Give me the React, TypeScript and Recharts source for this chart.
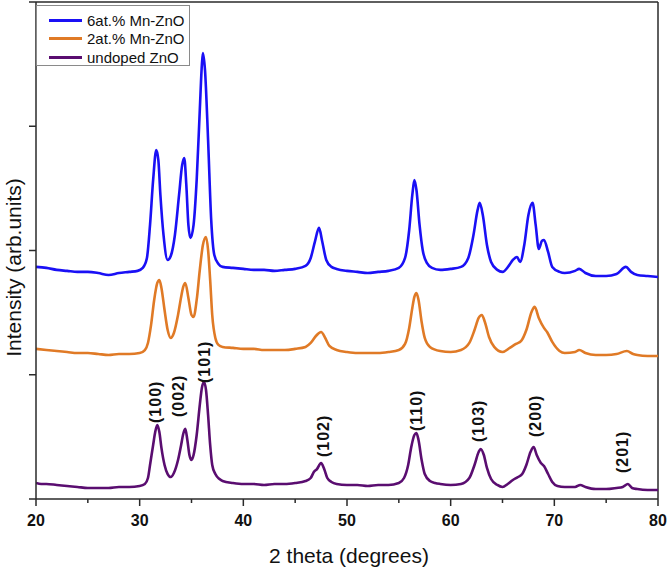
import { LineChart, Line, XAxis, YAxis, ReferenceLine, ReferenceDot, Legend } from 'recharts';

// 2 theta (deg), intensity (arb.)
const doped6: [number, number][] = [
  [20, 1868], [21, 1860], [22, 1844], [23, 1836], [24, 1828], [25, 1828], [26, 1819], [27, 1803],
  [28, 1819], [29, 1828], [29.8, 1836], [30.3, 1860], [30.7, 1940], [31.0, 2206], [31.3, 2568],
  [31.6, 2809], [31.8, 2729], [32.0, 2447], [32.3, 2125], [32.7, 1924], [33.0, 1956], [33.4, 2125],
  [33.8, 2447], [34.1, 2689], [34.3, 2745], [34.5, 2528], [34.7, 2206], [34.9, 2101], [35.2, 2206],
  [35.5, 2568], [35.8, 3131], [36.0, 3494], [36.1, 3590], [36.3, 3454], [36.6, 2890], [36.9, 2246],
  [37.2, 1964], [37.6, 1892], [38, 1868], [39, 1860], [40, 1852], [41, 1844], [42, 1844], [43, 1836],
  [44, 1844], [45, 1852], [46, 1876], [46.5, 1940], [46.9, 2069], [47.3, 2182], [47.6, 2077],
  [48.0, 1924], [48.5, 1868], [49, 1852], [50, 1836], [51, 1828], [52, 1819], [53, 1828], [54, 1836],
  [55, 1860], [55.6, 1940], [56.0, 2165], [56.3, 2447], [56.5, 2568], [56.7, 2487], [57.0, 2206],
  [57.3, 2004], [57.7, 1900], [58.2, 1860], [59, 1844], [60, 1852], [61, 1868], [61.7, 1940],
  [62.2, 2125], [62.6, 2327], [62.8, 2383], [63.1, 2286], [63.5, 2045], [63.9, 1908], [64.5, 1844],
  [65.0, 1828], [65.6, 1876], [66.0, 1924], [66.4, 1948], [66.7, 1908], [67.1, 2045], [67.5, 2286],
  [67.9, 2383], [68.2, 2206], [68.5, 2013], [68.8, 2077], [69.0, 2085], [69.4, 1988], [69.8, 1868],
  [70.5, 1828], [71, 1819], [72, 1836], [72.4, 1852], [73, 1819], [74, 1795], [75, 1795], [76, 1811],
  [76.9, 1868], [77.4, 1828], [78, 1803], [79, 1795], [80, 1787],
];

const doped2: [number, number][] = [
  [20, 1208], [21, 1199], [22, 1191], [23, 1183], [24, 1175], [25, 1175], [26, 1167], [27, 1159],
  [28, 1167], [29, 1167], [30, 1175], [30.5, 1199], [30.8, 1256], [31.1, 1401], [31.4, 1602],
  [31.7, 1739], [31.9, 1763], [32.1, 1699], [32.4, 1521], [32.7, 1360], [33.0, 1296], [33.3, 1336],
  [33.7, 1481], [34.0, 1626], [34.2, 1707], [34.4, 1739], [34.7, 1618], [35.0, 1481], [35.2, 1465],
  [35.5, 1602], [35.8, 1843], [36.1, 2045], [36.4, 2109], [36.6, 2004], [36.8, 1763], [37.0, 1481],
  [37.3, 1296], [37.6, 1240], [38, 1224], [39, 1216], [40, 1208], [41, 1208], [42, 1199], [43, 1199],
  [44, 1199], [45, 1208], [46, 1224], [46.5, 1256], [47.0, 1312], [47.5, 1344], [47.9, 1296],
  [48.3, 1232], [49, 1199], [50, 1183], [51, 1175], [52, 1175], [53, 1175], [54, 1183], [55, 1199],
  [55.6, 1248], [56.0, 1377], [56.3, 1538], [56.5, 1626], [56.7, 1658], [56.9, 1602], [57.2, 1425],
  [57.5, 1296], [58, 1224], [59, 1191], [60, 1183], [61, 1199], [61.8, 1256], [62.3, 1360],
  [62.7, 1457], [63.0, 1481], [63.3, 1425], [63.7, 1304], [64.2, 1224], [65, 1183], [65.7, 1216],
  [66.3, 1248], [66.8, 1272], [67.3, 1360], [67.8, 1505], [68.1, 1546], [68.5, 1457], [69.0, 1377],
  [69.3, 1344], [69.8, 1264], [70.5, 1191], [71, 1175], [72, 1183], [72.4, 1199], [73, 1175],
  [74, 1159], [75, 1159], [76, 1167], [77, 1191], [77.6, 1167], [78, 1159], [79, 1151], [80, 1151],
];

const undoped: [number, number][] = [
  [20, 129], [20.5, 121], [21, 121], [22, 113], [23, 105], [24, 97], [25, 89], [26, 89], [27, 89],
  [28, 97], [29, 97], [30, 105], [30.5, 121], [30.8, 169], [31.0, 274], [31.3, 435], [31.5, 539],
  [31.7, 596], [31.9, 539], [32.1, 411], [32.4, 274], [32.7, 201], [33.0, 177], [33.3, 209],
  [33.7, 314], [34.0, 435], [34.2, 523], [34.4, 564], [34.6, 475], [34.8, 354], [35.0, 314],
  [35.2, 354], [35.5, 515], [35.8, 757], [36.0, 894], [36.2, 942], [36.4, 877], [36.6, 676],
  [36.8, 435], [37.0, 274], [37.3, 201], [37.7, 161], [38, 145], [39, 129], [40, 121], [41, 121],
  [42, 113], [43, 121], [44, 121], [45, 129], [46, 145], [46.5, 169], [46.8, 217], [47.1, 241],
  [47.5, 290], [47.8, 241], [48.1, 169], [48.5, 137], [49, 121], [50, 113], [51, 113], [52, 105],
  [53, 113], [54, 113], [55, 129], [55.5, 169], [55.9, 274], [56.2, 419], [56.5, 515], [56.7, 531],
  [56.9, 475], [57.2, 314], [57.5, 201], [58, 145], [58.5, 129], [59, 121], [60, 113], [61, 121],
  [61.8, 169], [62.3, 274], [62.7, 378], [62.9, 403], [63.2, 354], [63.5, 250], [63.9, 161],
  [64.5, 113], [65, 97], [65.5, 121], [66.0, 153], [66.5, 177], [66.9, 201], [67.3, 274],
  [67.7, 378], [68.0, 419], [68.3, 354], [68.7, 290], [69.0, 266], [69.4, 201], [69.8, 137],
  [70.3, 105], [71, 97], [72, 97], [72.5, 113], [73, 97], [74, 80], [75, 80], [76, 89], [76.6, 97],
  [77.1, 121], [77.5, 89], [78, 80], [79, 72], [80, 72],
];

const hklLabels = ['(100)', '(002)', '(101)', '(102)', '(110)', '(103)', '(200)', '(201)'];
const hklTheta = [31.5, 33.7, 36.3, 47.7, 56.7, 62.7, 68.2, 76.6];
const hklBase = [612, 660, 934, 338, 547, 459, 499, 209];

const xTicks = [20, 25, 30, 35, 40, 45, 50, 55, 60, 65, 70, 75, 80];
const yTicks = [0, 1000, 2000, 3000, 4000];

const seriesNames = ['6at.% Mn-ZnO', '2at.% Mn-ZnO', 'undoped ZnO'];
const seriesColors = ['#1a10f5', '#e07a26', '#5a0d70'];

const toRows = (pts: [number, number][]) => pts.map(([t, v]) => ({ t, v }));

const axisColor = '#2a2a2a';
const font = 'Liberation Sans, Arial, sans-serif';

const XTick = (props: any) => {
  const { x, y, payload } = props;
  const major = payload.value % 10 === 0;
  return (
    <g>
      <line x1={x} x2={x} y1={y} y2={y + (major ? 7 : 4)} stroke={axisColor} strokeWidth={1.5} />
      {major && (
        <text x={x} y={y + 16} dy="0.71em" textAnchor="middle" fontFamily={font} fontWeight="bold" fontSize={16} fill="#111">
          {payload.value}
        </text>
      )}
    </g>
  );
};

// y ticks: marks only, no labels
const YTick = (props: any) => {
  const { x, y } = props;
  return <line x1={x - 7} x2={x} y1={y} y2={y} stroke={axisColor} strokeWidth={1.5} />;
};

const HklMark = (text: string) => (props: any) => {
  const { cx, cy } = props;
  return (
    <text
      x={cx}
      y={cy}
      transform={`rotate(-90, ${cx}, ${cy})`}
      textAnchor="start"
      dominantBaseline="central"
      fontFamily={font}
      fontWeight="bold"
      fontSize={16}
      letterSpacing={1}
      fill="#111"
    >
      {text}
    </text>
  );
};

const LegendBox = () => (
  <div
    style={{
      position: 'relative',
      width: 154,
      height: 61,
      border: '1px solid #8a8a8a',
      boxSizing: 'border-box',
      background: '#fff',
      fontFamily: font,
      fontSize: 15,
      color: '#111',
    }}
  >
    {seriesNames.map((n, i) => (
      <div key={n} style={{ position: 'absolute', left: 12, top: 5 + i * 18.5, height: 18, display: 'flex', alignItems: 'center' }}>
        <div style={{ width: 33, height: 3, background: seriesColors[i], marginRight: 5 }} />
        <span style={{ whiteSpace: 'nowrap' }}>{n}</span>
      </div>
    ))}
  </div>
);

const YTitle = (props: any) => {
  const vb = props.viewBox || { x: 0, y: 2, height: 497 };
  const cx = 13;
  const cy = vb.y + vb.height / 2 + 17;
  return (
    <text x={cx} y={cy} transform={`rotate(-90, ${cx}, ${cy})`} textAnchor="middle" dominantBaseline="central" fontFamily={font} fontSize={21} fill="#111">
      Intensity (arb.units)
    </text>
  );
};

const XTitle = (props: any) => {
  const vb = props.viewBox || { x: 36, y: 499, width: 622 };
  return (
    <text x={vb.x + vb.width / 2 + 2} y={555} textAnchor="middle" dominantBaseline="central" fontFamily={font} fontSize={21} fill="#111">
      2 theta (degrees)
    </text>
  );
};

export default function App() {
  const series = [doped6, doped2, undoped];
  return (
    <div style={{ position: 'absolute', left: 0, top: 0, background: '#fff' }}>
      <LineChart width={669} height={571} margin={{ top: 2, right: 11, bottom: 42, left: 0 }}>
        <XAxis
          type="number"
          dataKey="t"
          domain={[20, 80]}
          ticks={xTicks}
          interval={0}
          allowDataOverflow
          height={30}
          tickSize={0}
          tickMargin={0}
          tickLine={false}
          tick={<XTick />}
          stroke={axisColor}
          strokeWidth={1.5}
          label={<XTitle />}
        />
        <YAxis
          type="number"
          domain={[0, 4000]}
          ticks={yTicks}
          interval={0}
          allowDataOverflow
          width={36}
          tickSize={0}
          tickMargin={0}
          tickLine={false}
          tick={<YTick />}
          stroke={axisColor}
          strokeWidth={1.5}
          label={<YTitle />}
        />
        <ReferenceLine y={4000} stroke={axisColor} strokeWidth={1.5} />
        <ReferenceLine x={80} stroke={axisColor} strokeWidth={1.5} />
        {series.map((s, i) => (
          <Line
            key={seriesNames[i]}
            data={toRows(s)}
            dataKey="v"
            name={seriesNames[i]}
            type="monotone"
            stroke={seriesColors[i]}
            strokeWidth={2.6}
            strokeLinejoin="round"
            dot={false}
            isAnimationActive={false}
          />
        ))}
        {hklLabels.map((l, i) => (
          <ReferenceDot key={l} x={hklTheta[i]} y={hklBase[i]} r={0} shape={HklMark(l)} />
        ))}
        <Legend
          layout="vertical"
          align="center"
          verticalAlign="middle"
          content={<LegendBox />}
          wrapperStyle={{ position: 'absolute', top: 5, left: 36, width: 154, height: 61 }}
        />
      </LineChart>
    </div>
  );
}
